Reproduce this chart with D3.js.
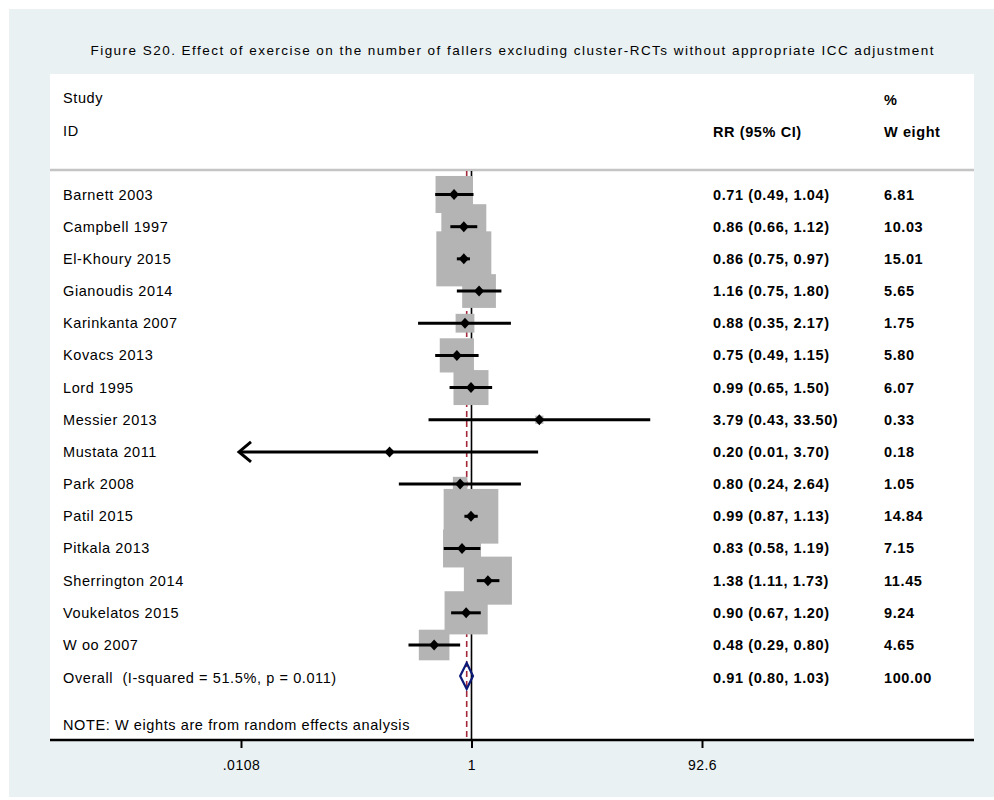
<!DOCTYPE html>
<html>
<head>
<meta charset="utf-8">
<title>Figure S20 forest plot</title>
<script src="https://d3js.org/d3.v7.min.js"></script>
<style>
  body, html { margin: 0; padding: 0; background: #fff; }
  svg { display: block; }
  text { font-family: "Liberation Sans", Arial, sans-serif; fill: #000; white-space: pre; }
  .lbl { font-size: 14.5px; letter-spacing: 0.6px; }
  .num { font-size: 14.5px; letter-spacing: 0.6px; font-weight: bold; }
</style>
</head>
<body>
<svg></svg>
<script>
// study data
const studies = ["Barnett 2003", "Campbell 1997", "El-Khoury 2015", "Gianoudis 2014", "Karinkanta 2007",
  "Kovacs 2013", "Lord 1995", "Messier 2013", "Mustata 2011", "Park 2008", "Patil 2015",
  "Pitkala 2013", "Sherrington 2014", "Voukelatos 2015", "W oo 2007"];
const rr    = [0.71, 0.86, 0.86, 1.16, 0.88, 0.75, 0.99, 3.79, 0.20, 0.80, 0.99, 0.83, 1.38, 0.90, 0.48];
const lower = [0.49, 0.66, 0.75, 0.75, 0.35, 0.49, 0.65, 0.43, 0.01, 0.24, 0.87, 0.58, 1.11, 0.67, 0.29];
const upper = [1.04, 1.12, 0.97, 1.80, 2.17, 1.15, 1.50, 33.50, 3.70, 2.64, 1.13, 1.19, 1.73, 1.20, 0.80];
const weights = [6.81, 10.03, 15.01, 5.65, 1.75, 5.80, 6.07, 0.33, 0.18, 1.05, 14.84, 7.15, 11.45, 9.24, 4.65];

const overallLabel = "Overall  (I-squared = 51.5%, p = 0.011)";
const overall = {rr: 0.91, lo: 0.80, hi: 1.03, w: 100.00};

const tickValues = [0.0108, 1, 92.6];
const tickLabels = [".0108", "1", "92.6"];

const W = 994, H = 800;
const panel = {x0: 50, x1: 974, y0: 74, y1: 740};

const svg = d3.select("svg").attr("width", W).attr("height", H);

// background
svg.append("rect").attr("x", 9).attr("y", 9).attr("width", W - 9).attr("height", 788)
  .attr("fill", "#e9f1f3");
svg.append("rect").attr("x", panel.x0).attr("y", panel.y0)
  .attr("width", panel.x1 - panel.x0).attr("height", panel.y1 - panel.y0)
  .attr("fill", "#fff");

// scales
const x = d3.scaleLog().domain([0.0108, 92.6]).range([241, 702]);
const y = d3.scaleLinear().domain([0, 14]).range([194.5, 645]);
const box = d3.scaleSqrt().domain([0, 15.01]).range([0, 55]);
const fmt = d3.format(".2f");

// title
svg.append("text").attr("x", 512).attr("y", 55).attr("text-anchor", "middle")
  .attr("font-size", 13.5).attr("textLength", 843).attr("lengthAdjust", "spacing")
  .text("Figure S20. Effect of exercise on the number of fallers excluding cluster-RCTs without appropriate ICC adjustment");

// headers
const colL = 63, colRR = 713, colW = 884;
svg.append("text").attr("class", "lbl").attr("x", colL).attr("y", 103).text("Study");
svg.append("text").attr("class", "lbl").attr("x", colL).attr("y", 136).text("ID");
svg.append("text").attr("class", "num").attr("x", colRR).attr("y", 137).text("RR (95% CI)");
svg.append("text").attr("class", "num").attr("x", colW).attr("y", 105).text("%");
svg.append("text").attr("class", "num").attr("x", colW).attr("y", 137).text("W eight");

// separator
svg.append("line").attr("x1", panel.x0).attr("x2", panel.x1).attr("y1", 170).attr("y2", 170)
  .attr("stroke", "#c4c4c4").attr("stroke-width", 2.5);

// reference lines
svg.append("line").attr("x1", x(1)).attr("x2", x(1)).attr("y1", 171).attr("y2", panel.y1)
  .attr("stroke", "#000").attr("stroke-width", 1.6);
svg.append("line").attr("x1", x(overall.rr)).attr("x2", x(overall.rr)).attr("y1", 171).attr("y2", panel.y1)
  .attr("stroke", "#a3283a").attr("stroke-width", 1.6).attr("stroke-dasharray", "6,4");

const rows = studies.map((s, i) => ({name: s, rr: rr[i], lo: lower[i], hi: upper[i], w: weights[i], i: i}));

// weight boxes
svg.append("g").selectAll("rect").data(rows).join("rect")
  .attr("x", d => x(d.rr) - box(d.w) / 2)
  .attr("y", d => y(d.i) - box(d.w) / 2)
  .attr("width", d => box(d.w))
  .attr("height", d => box(d.w))
  .attr("fill", "#b4b4b4");

// CI lines
const xmin = x.domain()[0];
svg.append("g").selectAll("line").data(rows).join("line")
  .attr("x1", d => x(Math.max(d.lo, xmin)))
  .attr("x2", d => x(d.hi))
  .attr("y1", d => y(d.i)).attr("y2", d => y(d.i))
  .attr("stroke", "#000").attr("stroke-width", 3);

// arrows for clipped CIs
svg.append("g").selectAll("path").data(rows.filter(d => d.lo < xmin)).join("path")
  .attr("d", d => {
    const tx = x(xmin) - 2, ty = y(d.i);
    return `M${tx + 12},${ty - 10}L${tx},${ty}L${tx + 12},${ty + 10}`;
  })
  .attr("fill", "none").attr("stroke", "#000").attr("stroke-width", 3);

// point estimates
svg.append("g").selectAll("path").data(rows).join("path")
  .attr("d", d => {
    const cx = x(d.rr), cy = y(d.i);
    return `M${cx - 5},${cy}L${cx},${cy - 5.5}L${cx + 5},${cy}L${cx},${cy + 5.5}Z`;
  })
  .attr("fill", "#000");

// overall diamond
const oy = 676;
svg.append("path")
  .attr("d", `M${x(overall.lo)},${oy}L${x(overall.rr)},${oy - 13}L${x(overall.hi)},${oy}L${x(overall.rr)},${oy + 13}Z`)
  .attr("fill", "none").attr("stroke", "#0c1a78").attr("stroke-width", 2.2);

// row texts
const tg = svg.append("g");
tg.selectAll("text.name").data(rows).join("text").attr("class", "lbl name")
  .attr("x", colL).attr("y", d => y(d.i) + 5).text(d => d.name);
tg.selectAll("text.ci").data(rows).join("text").attr("class", "num ci")
  .attr("x", colRR).attr("y", d => y(d.i) + 5)
  .text(d => `${fmt(d.rr)} (${fmt(d.lo)}, ${fmt(d.hi)})`);
tg.selectAll("text.wt").data(rows).join("text").attr("class", "num wt")
  .attr("x", colW).attr("y", d => y(d.i) + 5).text(d => fmt(d.w));

svg.append("text").attr("class", "lbl").attr("x", colL).attr("y", 683).text(overallLabel);
svg.append("text").attr("class", "num").attr("x", colRR).attr("y", 683)
  .text(`${fmt(overall.rr)} (${fmt(overall.lo)}, ${fmt(overall.hi)})`);
svg.append("text").attr("class", "num").attr("x", colW).attr("y", 683).text(fmt(overall.w));

svg.append("text").attr("class", "lbl").attr("x", colL).attr("y", 730)
  .text("NOTE: W eights are from random effects analysis");

// axis
svg.append("line").attr("x1", panel.x0).attr("x2", panel.x1).attr("y1", panel.y1).attr("y2", panel.y1)
  .attr("stroke", "#000").attr("stroke-width", 2.5);
const axis = d3.axisBottom(x).tickValues(tickValues).tickFormat((d, i) => tickLabels[i]).tickSize(8).tickPadding(12);
const ag = svg.append("g").attr("transform", `translate(0,${panel.y1})`).call(axis);
ag.select(".domain").remove();
ag.selectAll(".tick line").attr("stroke", "#000").attr("stroke-width", 2);
ag.selectAll(".tick text").attr("font-size", 14).attr("font-family", "Liberation Sans, Arial, sans-serif")
  .attr("fill", "#000").style("letter-spacing", "0.5px");
</script>
</body>
</html>
